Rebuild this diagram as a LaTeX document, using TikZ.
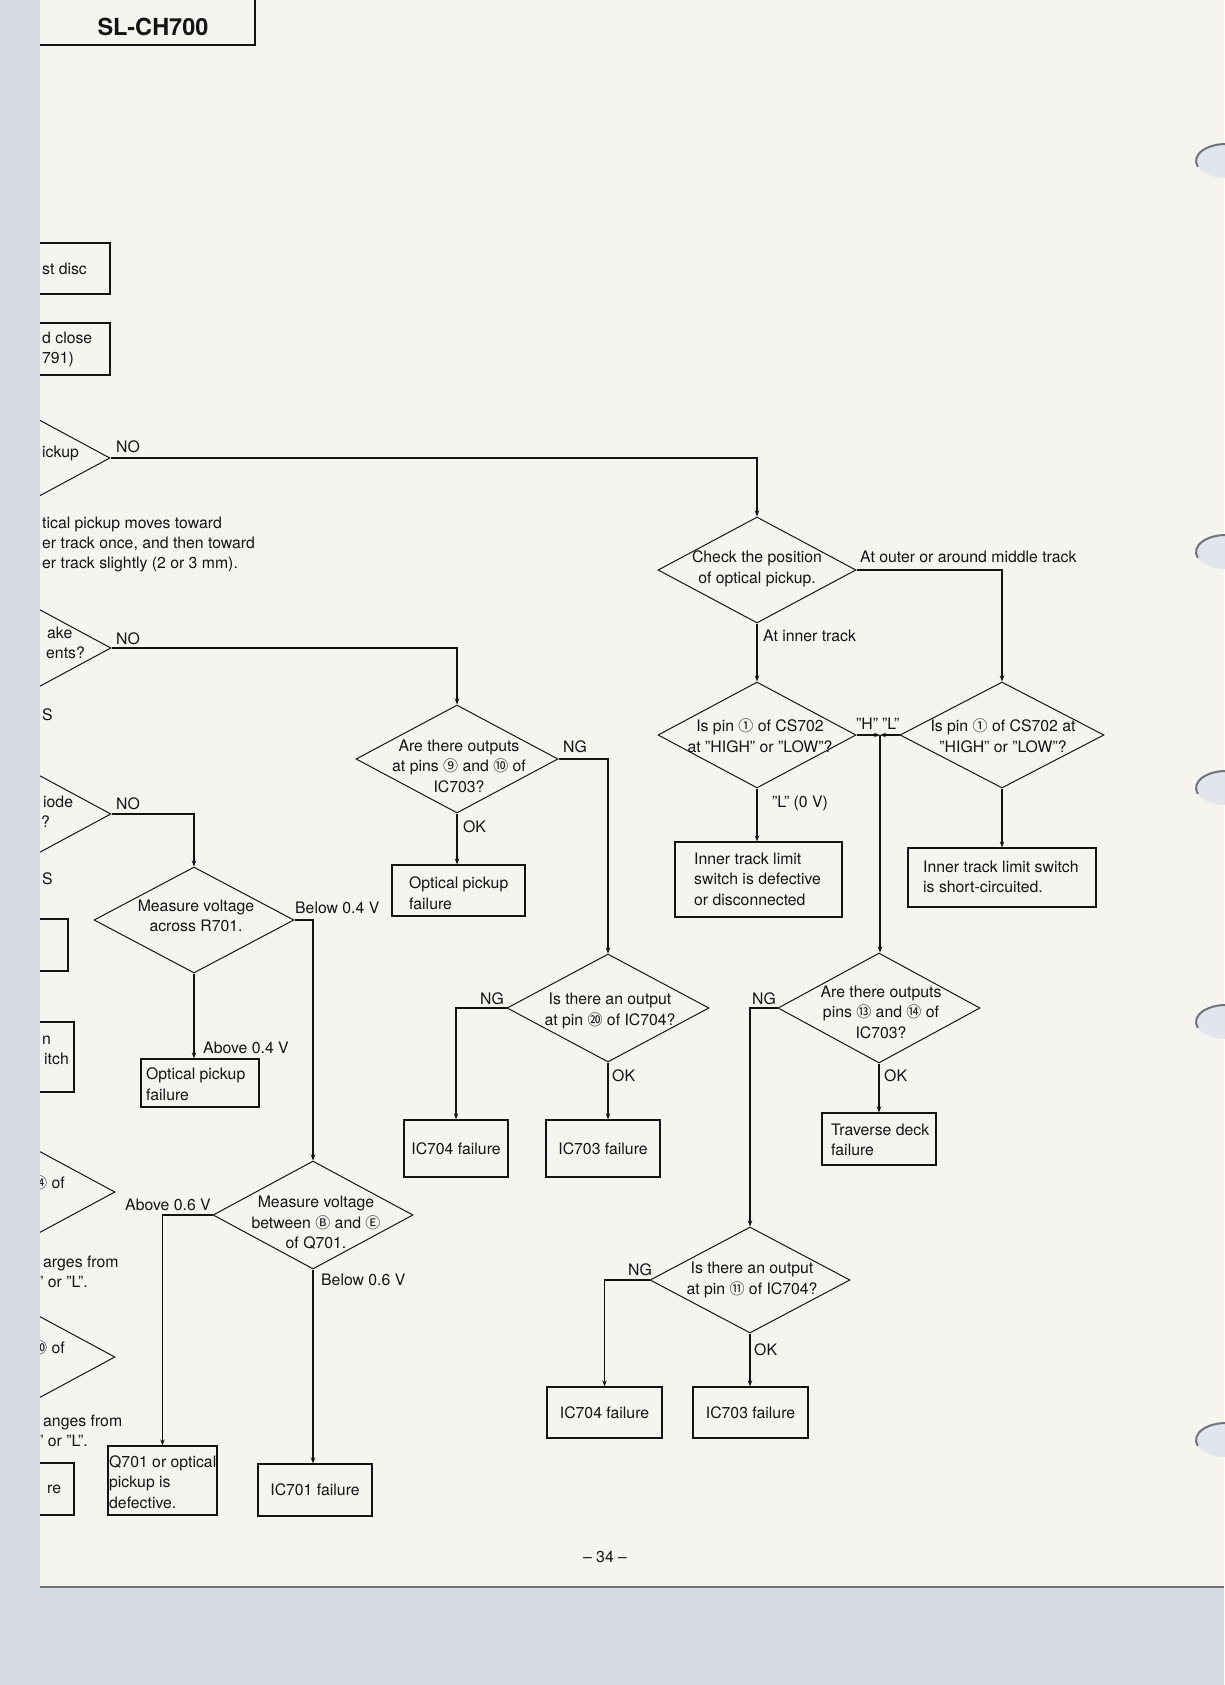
\documentclass[tikz,border=0pt]{standalone}
\usepackage{fontspec}
\setmainfont{TeX Gyre Heros}
\newfontfamily\circfont{Noto Sans CJK SC}
\usetikzlibrary{shapes.geometric,arrows.meta}
\definecolor{ink}{RGB}{20,20,20}
\definecolor{paper}{RGB}{245,244,239}
\definecolor{scanbg}{RGB}{214,219,227}
\definecolor{holefill}{RGB}{226,229,235}
\definecolor{holeshade}{RGB}{110,115,125}
\newcommand{\fsz}{\fontsize{15.8}{20.5}\selectfont}
\newcommand{\circnum}[1]{{\circfont\fontsize{15}{20.5}\selectfont #1}}
\newcommand{\dq}{\symbol{34}}
\tikzset{
  txt/.style={inner sep=0pt, font=\fsz, text=ink},
  lbl/.style={txt, anchor=base west},
  mtxt/.style={txt, align=center},
  ltxt/.style={txt, align=left, anchor=west},
  dia/.style 2 args={draw=ink, line width=1pt, shape=diamond, inner sep=0pt, minimum width=#1pt, minimum height=#2pt},
  boxn/.style 2 args={draw=ink, line width=1.2pt, rectangle, inner sep=0pt, minimum width=#1pt, minimum height=#2pt},
  conn/.style={draw=ink, line width=1.1pt, -{Stealth[length=6pt,width=4.5pt]}},
  plainln/.style={draw=ink, line width=1.1pt},
}
\begin{document}
\begin{tikzpicture}[x=1pt,y=-1pt]
\useasboundingbox (0,0) rectangle (1224,1685);
\fill[paper] (0,0) rectangle (1224,1685);

% header
\draw[plainln, line width=1.3pt] (255,0) -- (255,45) -- (30,45);
\node[txt, font=\fontsize{23.5}{26}\selectfont\bfseries] (hdr) at (153,27) {SL-CH700};

% ---------- left partial elements ----------
\node[boxn={90}{51}] (pb1) at (65,268.5) {};
\node[lbl] (tst) at (42,275) {st disc};
\node[boxn={90}{52}] (pb2) at (65,349) {};
\node[lbl] (td1) at (42,343) {d close};
\node[lbl] (td2) at (42,363) {791)};

\node[dia={200}{108}] (p1) at (10,458) {};
\node[lbl] (tick) at (42,457) {ickup};
\node[lbl] (no1) at (116,452) {NO};

\node[lbl] (tb1) at (42,528) {tical pickup moves toward};
\node[lbl] (tb2) at (42,548) {er track once, and then toward};
\node[lbl] (tb3) at (42,568) {er track slightly (2 or 3 mm).};

\node[dia={200}{108}] (p2) at (11,648) {};
\node[lbl] (take) at (47,638) {ake};
\node[lbl] (tents) at (46,658) {ents?};
\node[lbl] (no2) at (116,644) {NO};
\node[lbl] (ts1) at (42,720) {S};

\node[dia={200}{108}] (p5) at (11,814) {};
\node[lbl] (tiode) at (43,807) {iode};
\node[lbl] (tq) at (41,827) {?};
\node[lbl] (no5) at (116,809) {NO};
\node[lbl] (ts2) at (42,884) {S};

\node[boxn={48}{52}] (pb3) at (44,945) {};
\node[boxn={54}{70}] (pb4) at (47,1057) {};
\node[lbl] (tn) at (42,1044) {n};
\node[lbl] (titch) at (44,1064) {itch};

\node[dia={200}{108}] (p8) at (15,1192) {};
\node[lbl] (t14) at (32,1188) {\circnum{⑭} of};
\node[lbl] (targ1) at (43,1267) {arges from};
\node[lbl] (targ2) at (38,1287) {\dq\ or \dq L\dq.};

\node[dia={200}{108}] (p9) at (15,1357) {};
\node[lbl] (t20) at (32,1353) {\circnum{⑳} of};
\node[lbl] (tang1) at (43,1426) {anges from};
\node[lbl] (tang2) at (38,1446) {\dq\ or \dq L\dq.};

\node[boxn={54}{52}] (pb5) at (47,1489) {};
\node[lbl] (tire) at (47,1493) {re};

% ---------- middle-left column ----------
\node[dia={202}{108}] (d3) at (457,759) {};
\node[mtxt] (d3t) at (459,766) {Are there outputs\\at pins \circnum{⑨} and \circnum{⑩} of\\IC703?};
\node[lbl] (ng3) at (563,752) {NG};
\node[lbl] (ok3) at (463,832) {OK};
\node[boxn={133}{51}] (b3) at (458.5,890.5) {};
\node[ltxt] (b3t) at (409,893) {Optical pickup\\failure};

\node[dia={200}{106}] (d6) at (194,920) {};
\node[mtxt] (d6t) at (196,916) {Measure voltage\\across R701.};
\node[lbl] (bel04) at (295,913) {Below 0.4 V};
\node[lbl] (abv04) at (203,1053) {Above 0.4 V};
\node[boxn={118}{48}] (b4) at (200,1083) {};
\node[ltxt] (b4t) at (146,1084) {Optical pickup\\failure};

\node[dia={200}{108}] (d7) at (313,1215) {};
\node[mtxt] (d7t) at (316,1223) {Measure voltage\\between \circnum{Ⓑ} and \circnum{Ⓔ}\\of Q701.};
\node[lbl] (abv06) at (125,1210) {Above 0.6 V};
\node[lbl] (bel06) at (321,1285) {Below 0.6 V};
\node[boxn={109}{69}] (bQ) at (162.5,1480.5) {};
\node[ltxt] (bQt) at (109,1482) {Q701 or optical\\pickup is\\defective.};
\node[boxn={114}{52}] (b701) at (315,1490) {};
\node[txt] (b701t) at (315,1490) {IC701 failure};

\node[dia={202}{108}] (d4) at (608,1008) {};
\node[mtxt] (d4t) at (610,1011) {Is there an output\\at pin \circnum{⑳} of IC704?};
\node[lbl] (ng4) at (480,1004) {NG};
\node[lbl] (ok4) at (612,1081) {OK};
\node[boxn={104}{57}] (b44) at (456,1148.5) {};
\node[txt] (b44t) at (456,1148.5) {IC704 failure};
\node[boxn={114}{57}] (b43) at (603,1148.5) {};
\node[txt] (b43t) at (603,1148.5) {IC703 failure};

% ---------- right column ----------
\node[dia={198}{106}] (dA) at (757,570) {};
\node[mtxt] (dAt) at (757,569) {Check the position\\of optical pickup.};
\node[lbl] (outer) at (860,562) {At outer or around middle track};
\node[lbl] (inner) at (763,641) {At inner track};

\node[dia={198}{106}] (dB) at (757,735) {};
\node[mtxt] (dBt) at (760,736) {Is pin \circnum{①} of CS702\\at \dq HIGH\dq\ or \dq LOW\dq?};
\node[dia={204}{106}] (dC) at (1002,735) {};
\node[mtxt] (dCt) at (1003,736) {Is pin \circnum{①} of CS702 at\\\dq HIGH\dq\ or \dq LOW\dq?};
\node[lbl] (tH) at (856,729) {\dq H\dq};
\node[lbl] (tL) at (882,729) {\dq L\dq};
\coordinate (J) at (880,735);
\node[lbl] (tL0) at (772,807) {\dq L\dq\ (0 V)};

\node[boxn={167}{75}] (bB) at (758.5,879.5) {};
\node[ltxt] (bBt) at (694,879) {Inner track limit\\switch is defective\\or disconnected};
\node[boxn={188}{59}] (bC) at (1002,877.5) {};
\node[ltxt] (bCt) at (923,877) {Inner track limit switch\\is short-circuited.};

\node[dia={202}{110}] (dD) at (879,1008) {};
\node[mtxt] (dDt) at (881,1012) {Are there outputs\\pins \circnum{⑬} and \circnum{⑭} of\\IC703?};
\node[lbl] (ngD) at (752,1004) {NG};
\node[lbl] (okD) at (884,1081) {OK};
\node[boxn={114}{52}] (bT) at (879,1139) {};
\node[ltxt] (bTt) at (831,1140) {Traverse deck\\failure};

\node[dia={200}{106}] (dE) at (750,1280) {};
\node[mtxt] (dEt) at (752,1280) {Is there an output\\at pin \circnum{⑪} of IC704?};
\node[lbl] (ngE) at (628,1275) {NG};
\node[lbl] (okE) at (754,1355) {OK};
\node[boxn={115}{51}] (bE4) at (604.5,1412.5) {};
\node[txt] (bE4t) at (604.5,1412.5) {IC704 failure};
\node[boxn={115}{51}] (bE3) at (750.5,1412.5) {};
\node[txt] (bE3t) at (750.5,1412.5) {IC703 failure};

\node[txt] (pg) at (605,1557) {-- 34 --};

% ---------- connectors ----------
\draw[conn] (p1.east) -| (dA.north);
\draw[conn] (p2.east) -| (d3.north);
\draw[conn] (p5.east) -| (d6.north);
\draw[conn] (d3.east) -| (d4.north);
\draw[conn] (d3.south) -- (d3.south |- b3.north);
\draw[conn] (d6.east) -| (d7.north);
\draw[conn] (d6.south) -- (d6.south |- b4.north);
\draw[conn] (d7.west) -| (bQ.north);
\draw[conn] (d7.south) -- (d7.south |- b701.north);
\draw[conn] (dA.east) -| (dC.north);
\draw[conn] (dA.south) -- (dB.north);
\draw[conn] (dB.east) -- (J);
\draw[conn] (dC.west) -- (J);
\draw[conn] (J) -- (J |- dD.north);
\draw[conn] (dB.south) -- (dB.south |- bB.north);
\draw[conn] (dC.south) -- (dC.south |- bC.north);
\draw[conn] (d4.west) -| (b44.north);
\draw[conn] (d4.south) -- (d4.south |- b43.north);
\draw[conn] (dD.west) -| (dE.north);
\draw[conn] (dD.south) -- (dD.south |- bT.north);
\draw[conn] (dE.west) -| (bE4.north);
\draw[conn] (dE.south) -- (dE.south |- bE3.north);

% ---------- scan surroundings ----------
\fill[scanbg] (0,0) rectangle (40,1685);
\fill[scanbg] (0,1587) rectangle (1224,1685);
\draw[holeshade, line width=1.2pt] (40,1587) -- (1224,1587);
\foreach \hy in {161,552,788,1022,1440}{
  \fill[holefill] (1226,\hy) ellipse [x radius=30, y radius=17];
  \draw[holeshade, line width=2pt] (1226,\hy) ++(160:30 and 17) arc[start angle=160, end angle=272, x radius=30, y radius=17];
}
\end{tikzpicture}
\end{document}
